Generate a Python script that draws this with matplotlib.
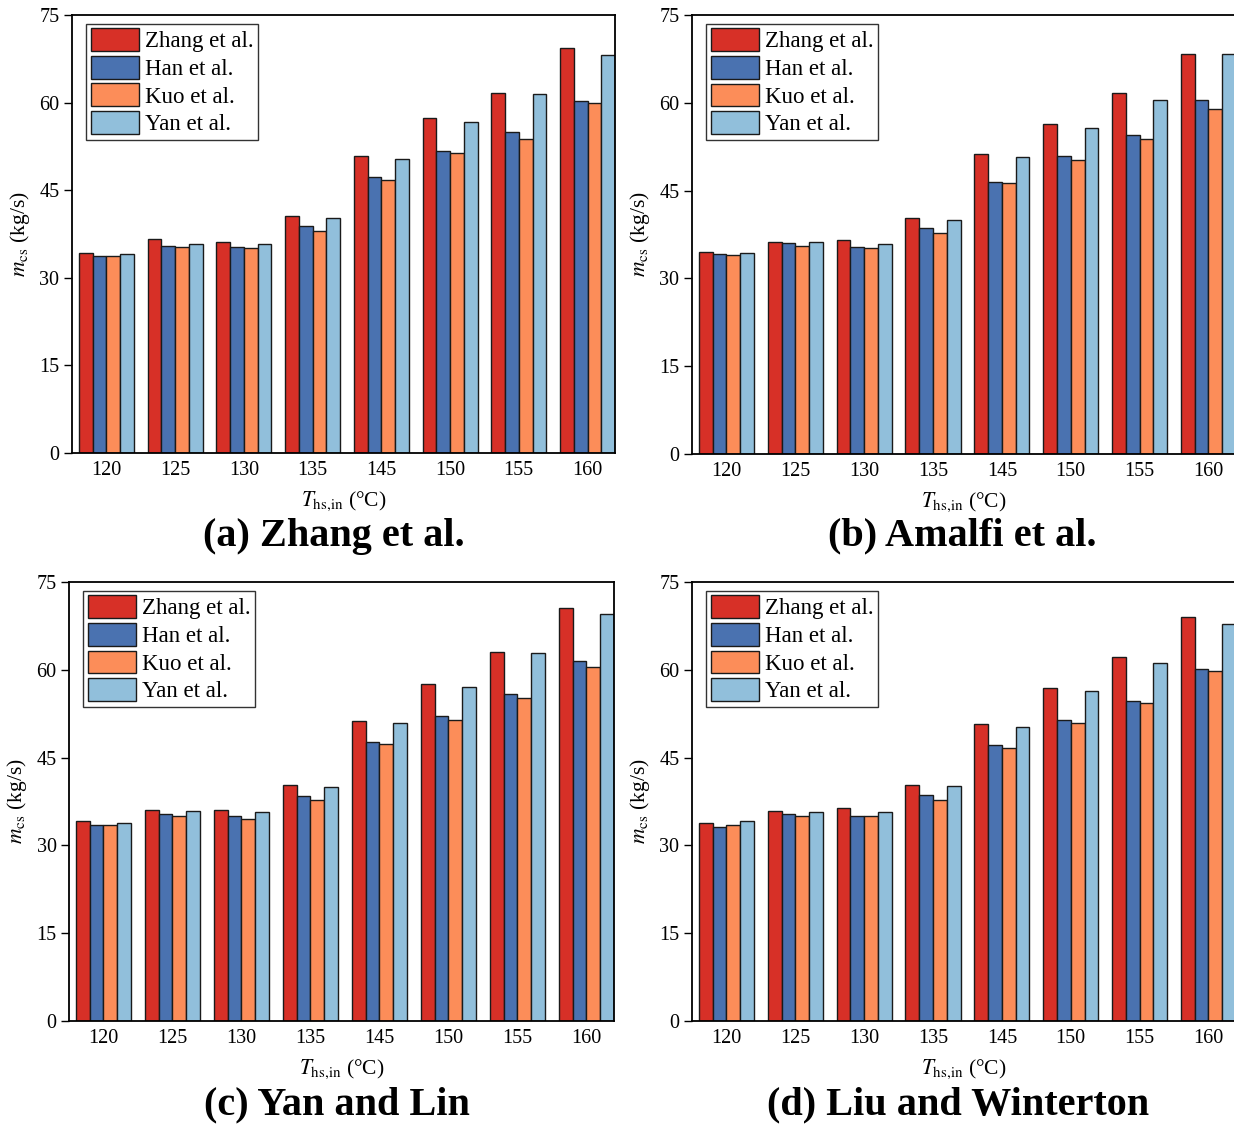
import matplotlib
matplotlib.use("Agg")
import matplotlib.pyplot as plt
import numpy as np

plt.rcParams['font.family'] = ['Liberation Serif', 'DejaVu Serif']
plt.rcParams['mathtext.fontset'] = 'stix'

categories = ['120', '125', '130', '135', '145', '150', '155', '160']
series_names = ['Zhang et al.', 'Han et al.', 'Kuo et al.', 'Yan et al.']
colors = ['#d73027', '#4a72b0', '#fc8d59', '#91bfdb']

# (a) Zhang et al.
a_zhang = [34.3, 36.6, 36.1, 40.5, 50.9, 57.3, 61.7, 69.3]
a_han   = [33.8, 35.5, 35.3, 38.8, 47.2, 51.7, 55.0, 60.3]
a_kuo   = [33.7, 35.3, 35.1, 38.0, 46.8, 51.3, 53.8, 60.0]
a_yan   = [34.1, 35.8, 35.8, 40.3, 50.4, 56.6, 61.5, 68.1]
# (b) Amalfi et al.
b_zhang = [34.5, 36.2, 36.5, 40.3, 51.2, 56.4, 61.7, 68.4]
b_han   = [34.2, 36.0, 35.3, 38.6, 46.5, 50.9, 54.5, 60.4]
b_kuo   = [34.0, 35.5, 35.2, 37.8, 46.3, 50.3, 53.8, 59.0]
b_yan   = [34.4, 36.3, 35.9, 40.0, 50.7, 55.7, 60.5, 68.3]
# (c) Yan and Lin
c_zhang = [34.1, 36.1, 36.1, 40.3, 51.3, 57.6, 63.0, 70.6]
c_han   = [33.5, 35.3, 35.0, 38.5, 47.7, 52.1, 55.9, 61.5]
c_kuo   = [33.4, 35.1, 34.5, 37.7, 47.4, 51.5, 55.1, 60.4]
c_yan   = [33.9, 35.8, 35.7, 40.0, 50.9, 57.0, 62.9, 69.6]
# (d) Liu and Winterton
d_zhang = [33.8, 35.9, 36.4, 40.4, 50.8, 56.9, 62.2, 69.1]
d_han   = [33.2, 35.3, 35.1, 38.6, 47.1, 51.4, 54.7, 60.1]
d_kuo   = [33.5, 35.1, 35.0, 37.8, 46.7, 50.9, 54.4, 59.8]
d_yan   = [34.1, 35.7, 35.7, 40.1, 50.2, 56.3, 61.2, 67.9]

titles = ['(a) Zhang et al.', '(b) Amalfi et al.', '(c) Yan and Lin', '(d) Liu and Winterton']
yticks = [0, 15, 30, 45, 60, 75]

panels = [
    (a_zhang, a_han, a_kuo, a_yan),
    (b_zhang, b_han, b_kuo, b_yan),
    (c_zhang, c_han, c_kuo, c_yan),
    (d_zhang, d_han, d_kuo, d_yan),
]

W, H = 1234, 1129
fig = plt.figure(figsize=(W / 100, H / 100), dpi=100)

# axes boxes in pixels: left, right, top, bottom
boxes = [(72, 615, 15, 453), (692, 1236, 15, 454), (69, 614, 582, 1021), (692, 1236, 582, 1021)]
title_pos = [(334, 536), (962, 536), (337, 1105), (958, 1105)]

bw = 0.2
x = np.arange(len(categories))
for i, (data, box, title, tp) in enumerate(zip(panels, boxes, titles, title_pos)):
    l, r, t, b = box
    ax = fig.add_axes([l / W, 1 - b / H, (r - l) / W, (b - t) / H])
    for j, (vals, name, col) in enumerate(zip(data, series_names, colors)):
        ax.bar(x - 0.3 + j * bw, vals, width=bw, color=col, edgecolor='#1a1a1a',
               linewidth=1.0, label=name, zorder=2)
    ax.set_xlim(-0.5, 7.4)
    ax.set_ylim(0, 75)
    ax.set_yticks(yticks)
    ax.set_xticks(x)
    ax.set_xticklabels(categories)
    ax.tick_params(axis='y', direction='out', length=6, width=1.0, labelsize=14.5, pad=3)
    ax.tick_params(axis='x', length=0, labelsize=14.5, pad=6)
    for s in ax.spines.values():
        s.set_linewidth(1.3)
    ax.set_xlabel(r'$T_{\mathrm{hs{,}in}}$ (°C)', fontsize=15.5, labelpad=7)
    ax.set_ylabel(r'$m_{\mathrm{cs}}$ (kg/s)', fontsize=15.5, labelpad=5)
    leg = ax.legend(loc='upper left', bbox_to_anchor=(0.026, 0.98), borderaxespad=0,
                    fontsize=16.5, handlelength=2.1, handleheight=1.15, labelspacing=0.15,
                    borderpad=0.2, handletextpad=0.25, fancybox=False, framealpha=1,
                    edgecolor='#333333')
    leg.get_frame().set_linewidth(1.0)
    fig.text(tp[0] / W, 1 - tp[1] / H, title, fontsize=29, fontweight='bold',
             ha='center', va='center')

fig.savefig('out.png', dpi=100)
